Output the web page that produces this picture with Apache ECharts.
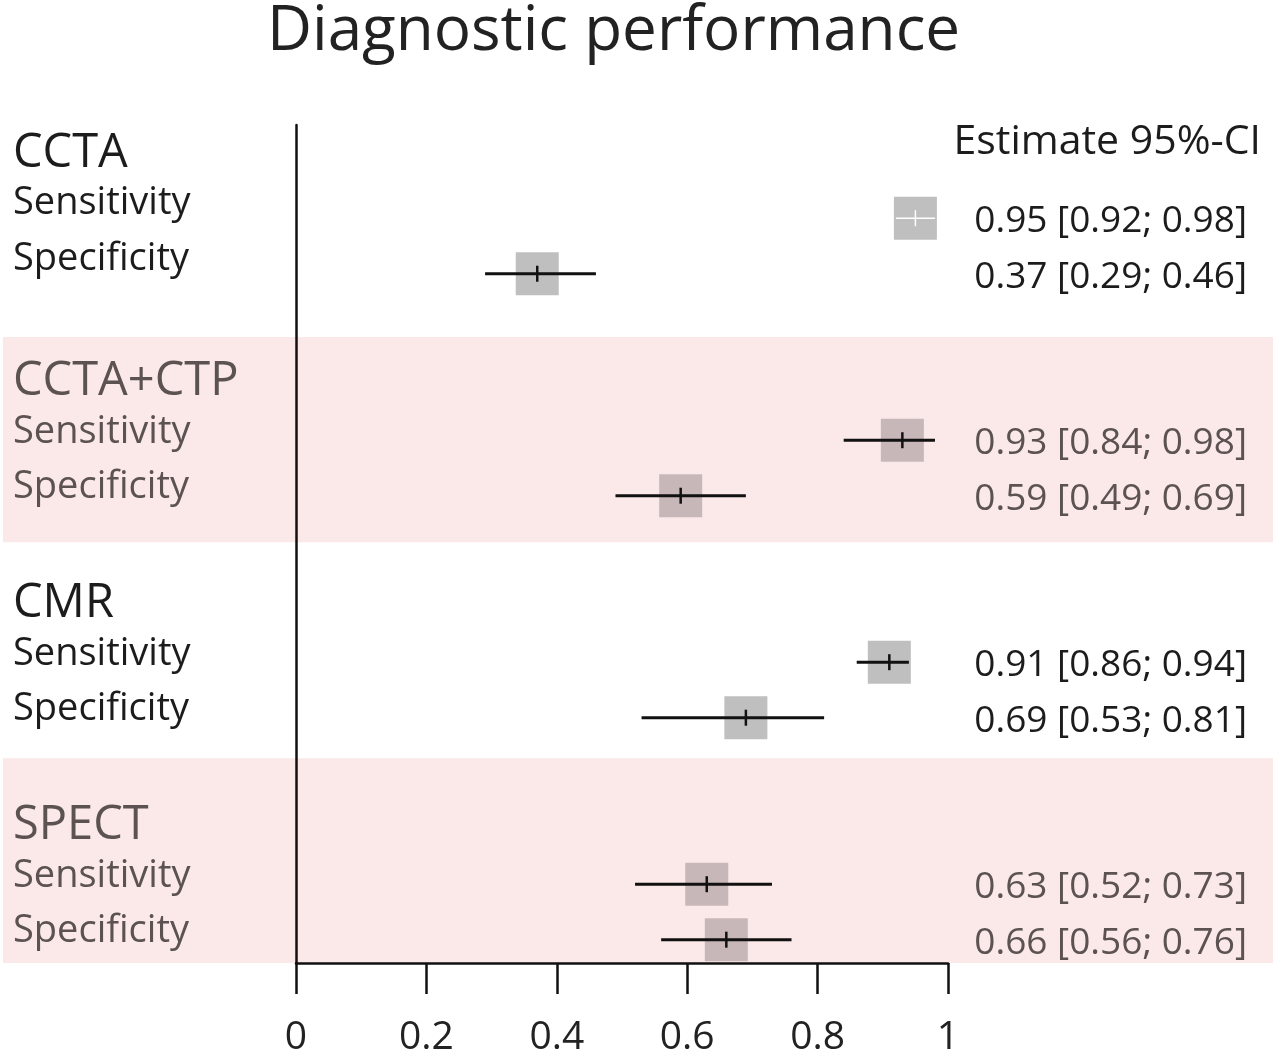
<!DOCTYPE html>
<html>
<head>
<meta charset="utf-8">
<script src="https://cdn.jsdelivr.net/npm/echarts@6/dist/echarts.min.js"></script>
<style>
  html, body { margin: 0; padding: 0; background: #fff; }
  #chart { width: 1280px; height: 1056px; }
</style>
</head>
<body>
<div id="chart"></div>
<script>
// data
const groups = ['CCTA', 'CCTA+CTP', 'CMR', 'SPECT'];
const measures = ['Sensitivity', 'Specificity'];
const estimates = [0.95, 0.37, 0.93, 0.59, 0.91, 0.69, 0.63, 0.66];
const lowerCI = [0.92, 0.29, 0.84, 0.49, 0.86, 0.53, 0.52, 0.56];
const upperCI = [0.98, 0.46, 0.98, 0.69, 0.94, 0.81, 0.73, 0.76];
const shadedGroups = [1, 3];
const xTicks = [0, 0.2, 0.4, 0.6, 0.8, 1];

const FONT = 'Open Sans';
const BAND = '#fbe9e9';
const DARK = '#1c1c1c';
const MUTED = '#5c5252';

// each group takes 4 rows: header, sensitivity, specificity, gap
const rowSlot = (g, m) => g * 4 + 1 + m;

const markerData = [];
estimates.forEach((est, i) => {
  const g = Math.floor(i / 2), m = i % 2;
  markerData.push([est, lowerCI[i], upperCI[i], rowSlot(g, m), shadedGroups.includes(g) ? 1 : 0]);
});

// band extents in row units (last band runs down to the axis)
const bandData = shadedGroups.map(g => g === 3
  ? [rowSlot(g, 0) - 2.27, rowSlot(g, 1) + 0.42]
  : [rowSlot(g, 0) - 1.86, rowSlot(g, 1) + 0.84]);

// text labels: [slot, text, side, color, size]
const labels = [];
labels.push([-0.37, 'Estimate 95%-CI', 'right-head', DARK, 41]);
groups.forEach((name, g) => {
  const col = shadedGroups.includes(g) ? MUTED : DARK;
  const shift = g === 0 ? -0.12 : 0;
  labels.push([rowSlot(g, 0) - 1.05 + shift, name, 'left', col, 47]);
  measures.forEach((mName, m) => {
    const i = g * 2 + m;
    labels.push([rowSlot(g, m) - 0.15 + shift, mName, 'left', col, 38]);
    labels.push([rowSlot(g, m) + 0.06,
      estimates[i].toFixed(2) + ' [' + lowerCI[i].toFixed(2) + '; ' + upperCI[i].toFixed(2) + ']',
      'right', col, 37]);
  });
});

const chart = echarts.init(document.getElementById('chart'));

const option = {
  backgroundColor: '#fff',
  animation: false,
  title: {
    text: 'Diagnostic performance',
    left: 262,
    top: -4,
    textStyle: { fontFamily: FONT, fontSize: 62, fontWeight: 'normal', color: '#222' }
  },
  grid: { left: 296, right: 332, top: 125, bottom: 93, outerBoundsMode: 'none' },
  xAxis: {
    type: 'value',
    position: 'bottom',
    min: 0,
    max: 1,
    interval: 0.2,
    splitLine: { show: false },
    axisLine: { show: true, onZero: false, lineStyle: { color: '#111', width: 2.5 } },
    axisTick: { show: true, length: 31, lineStyle: { color: '#111', width: 2.5 } },
    axisLabel: {
      fontFamily: FONT, fontSize: 39, color: '#222', margin: 55,
      customValues: xTicks
    }
  },
  yAxis: {
    type: 'value',
    inverse: true,
    min: -0.68,
    max: 14.42,
    splitLine: { show: false },
    axisLine: { show: true, onZero: false, lineStyle: { color: '#111', width: 2.5 } },
    axisTick: { show: false },
    axisLabel: { show: false }
  },
  series: [
    {
      // shaded group bands, full width of the figure
      type: 'custom',
      z: -1,
      silent: true,
      data: bandData,
      renderItem(params, api) {
        const top = api.coord([0, api.value(0)])[1];
        const bottom = api.coord([0, api.value(1)])[1];
        return {
          type: 'rect',
          shape: { x: 3, y: top, width: 1270, height: bottom - top },
          style: { fill: BAND }
        };
      }
    },
    {
      // square + confidence interval + estimate tick
      type: 'custom',
      z: 3,
      data: markerData,
      renderItem(params, api) {
        const c = api.coord([api.value(0), api.value(3)]);
        const lo = api.coord([api.value(1), api.value(3)]);
        const hi = api.coord([api.value(2), api.value(3)]);
        const half = 21.5;
        const inside = lo[0] >= c[0] - half && hi[0] <= c[0] + half;
        const ink = inside ? '#fff' : '#111';
        const fill = api.value(4) ? '#c7b7b8' : '#bfbfbf';
        return {
          type: 'group',
          children: [
            { type: 'rect', shape: { x: c[0] - half, y: c[1] - half, width: half * 2, height: half * 2 }, style: { fill: fill } },
            { type: 'line', shape: { x1: lo[0], y1: c[1], x2: hi[0], y2: c[1] }, style: { stroke: ink, lineWidth: inside ? 1.5 : 3 } },
            { type: 'line', shape: { x1: c[0], y1: c[1] - 8, x2: c[0], y2: c[1] + 8 }, style: { stroke: ink, lineWidth: inside ? 1.5 : 2.5 } }
          ]
        };
      }
    },
    {
      // row labels on the left and estimates on the right
      type: 'custom',
      z: 4,
      silent: true,
      data: labels.map(l => [0, l[0]]),
      renderItem(params, api) {
        const l = labels[params.dataIndex];
        const y = api.coord([0, api.value(1)])[1];
        const side = l[2];
        let x = 13, align = 'left';
        if (side === 'right') { x = 1247; align = 'right'; }
        if (side === 'right-head') { x = 1261; align = 'right'; }
        return {
          type: 'text',
          style: {
            x: x, y: y, text: l[1], align: align, verticalAlign: 'middle',
            fill: l[3], fontFamily: FONT, fontSize: l[4]
          }
        };
      }
    }
  ]
};

chart.setOption(option);
</script>
</body>
</html>
